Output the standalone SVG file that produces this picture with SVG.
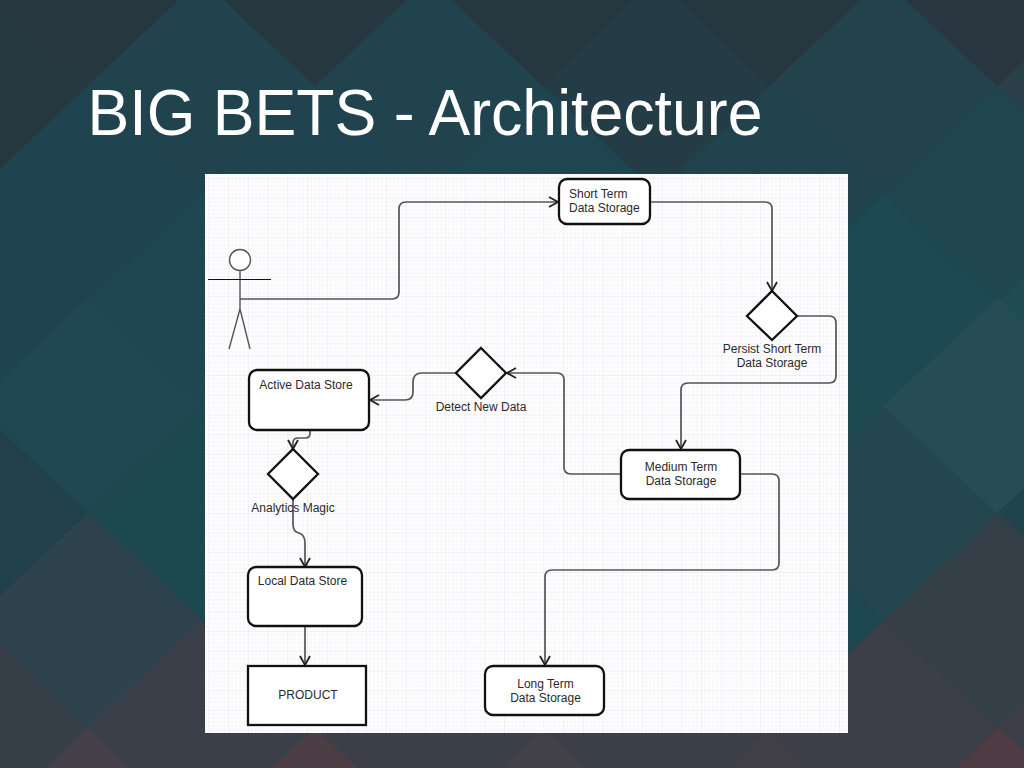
<svg xmlns="http://www.w3.org/2000/svg" width="1024" height="768" viewBox="0 0 1024 768">
<style>
.n{fill:#fff;stroke:#111;stroke-width:2.3}
.a{fill:none;stroke:#555;stroke-width:1.7}
.t{font-family:"Liberation Sans",Arial,sans-serif;font-size:12px;fill:#2a2a2a;text-anchor:middle}
.l{text-anchor:start}
.s{fill:none;stroke:#555;stroke-width:1.4}
</style>
<defs>
<pattern id="grid" x="208.500" y="178" width="19.7" height="19.7" patternUnits="userSpaceOnUse">
<path d="M4 0V19.7M8 0V19.7M12 0V19.7M16 0V19.7M0 4H19.7M0 8H19.7M0 12H19.7M0 16H19.7" stroke="#f7f7fc" stroke-width="1" fill="none"/>
<path d="M0 0V19.7M0 0H19.7" stroke="#e2e2f2" stroke-width="1" fill="none"/>
</pattern>
<marker id="ar" viewBox="0 0 12 12" refX="11" refY="6" markerWidth="12" markerHeight="12" markerUnits="userSpaceOnUse" orient="auto"><path d="M2 1L11 6L2 11" fill="none" stroke="#222" stroke-width="1.8"/></marker>
<path id="d" d="M0-109L116 0L0 109L-116 0Z"/>
</defs>
<rect width="1024" height="768" fill="#26383f"/>
<g id="background">
<use href="#d" x="88" y="-19" fill="#26373f"/><use href="#d" x="315" y="-19" fill="#26373f"/><use href="#d" x="543" y="-19" fill="#25383f"/><use href="#d" x="770" y="-19" fill="#25383f"/><use href="#d" x="998" y="-19" fill="#293640"/>
<use href="#d" x="-25" y="88" fill="#26383f"/><use href="#d" x="201" y="88" fill="#20434e"/><use href="#d" x="429" y="88" fill="#20434e"/><use href="#d" x="656" y="88" fill="#243c45"/><use href="#d" x="883" y="88" fill="#24424c"/><use href="#d" x="1111" y="88" fill="#2a3f48"/>
<use href="#d" x="88" y="195" fill="#1f4450"/><use href="#d" x="315" y="195" fill="#1f4450"/><use href="#d" x="543" y="195" fill="#1f4550"/><use href="#d" x="770" y="195" fill="#20434e"/><use href="#d" x="998" y="195" fill="#1f464f"/>
<use href="#d" x="-25" y="304" fill="#1f4450"/><use href="#d" x="201" y="304" fill="#1e4752"/><use href="#d" x="883" y="304" fill="#1d4952"/><use href="#d" x="1111" y="304" fill="#1f4b53"/>
<use href="#d" x="88" y="407" fill="#204853"/><use href="#d" x="770" y="407" fill="#1e4a52"/><use href="#d" x="998" y="407" fill="#264c56"/>
<use href="#d" x="-25" y="515" fill="#22404a"/><use href="#d" x="201" y="515" fill="#1e4850"/><use href="#d" x="883" y="515" fill="#24464f"/><use href="#d" x="1111" y="515" fill="#20444e"/>
<use href="#d" x="88" y="622" fill="#2e434e"/><use href="#d" x="770" y="622" fill="#1d4750"/><use href="#d" x="998" y="622" fill="#343f47"/>
<use href="#d" x="-25" y="730" fill="#373f48"/><use href="#d" x="201" y="730" fill="#3a3f4a"/><use href="#d" x="429" y="730" fill="#3a3f48"/><use href="#d" x="656" y="730" fill="#3a3f48"/><use href="#d" x="883" y="730" fill="#3c3e48"/><use href="#d" x="1111" y="730" fill="#3c3f48"/>
<use href="#d" x="88" y="837" fill="#44404a"/><use href="#d" x="315" y="837" fill="#4d3e46"/><use href="#d" x="543" y="837" fill="#424048"/><use href="#d" x="770" y="837" fill="#403f48"/><use href="#d" x="998" y="837" fill="#4f3b43"/>
</g>
<text x="87.500" y="135" font-family="Liberation Sans,Arial,sans-serif" font-size="64" fill="#fff" textLength="675" lengthAdjust="spacingAndGlyphs">BIG BETS - Architecture</text>
<g id="canvas"><rect x="205" y="174" width="643" height="559" fill="#fff"/><rect x="205" y="174" width="643" height="559" fill="url(#grid)"/></g>
<g id="connectors">
<path class="a" marker-end="url(#ar)" d="M240 299H392Q399 299 399 292V209Q399 202 406 202H558"/>
<path class="a" marker-end="url(#ar)" d="M651 202H765Q772 202 772 209V291"/>
<path class="a" marker-end="url(#ar)" d="M797 316H829Q836 316 836 323V376Q836 383 829 383H688Q681 383 681 390V449"/>
<path class="a" marker-end="url(#ar)" d="M621 474H571Q564 474 564 467V380Q564 373 557 373H507"/>
<path class="a" marker-end="url(#ar)" d="M456 373H422Q413 373 413 382V392Q413 400 405 400H370"/>
<path class="a" marker-end="url(#ar)" d="M310 431V434Q310 438 305 438H298Q293 438 293 443V449"/>
<path class="a" marker-end="url(#ar)" d="M293 499V524Q293 532 299 533Q305 535 305 543V567"/>
<path class="a" marker-end="url(#ar)" d="M305 626V665"/>
<path class="a" marker-end="url(#ar)" d="M741 474H772Q779 474 779 481V563Q779 570 772 570H552Q545 570 545 577V665"/>
</g>
<g id="actor">
<circle class="s" cx="240" cy="260" r="10.500" style="fill:#fff"/>
<path class="s" d="M240 270.500V309M240 309L229 349M240 309L250 349"/>
<path d="M208 279.500H271" stroke="#111" fill="none"/>
</g>
<g id="short-term"><rect class="n" x="559" y="179" width="91" height="45" rx="8"/><text class="t l" x="569" y="198">Short Term</text><text class="t l" x="569" y="212">Data Storage</text></g>
<g id="persist"><path class="n" d="M772 291L797 316L772 340L747 316Z"/><text class="t" x="772" y="353">Persist Short Term</text><text class="t" x="772" y="367">Data Storage</text></g>
<g id="detect"><path class="n" d="M481 348L506 373L481 398L456 373Z"/><text class="t" x="481" y="411">Detect New Data</text></g>
<g id="active"><rect class="n" x="249" y="370" width="120" height="60" rx="8"/><text class="t" x="306" y="389">Active Data Store</text></g>
<g id="analytics"><path class="n" d="M293 449L318 474L293 499L268 474Z"/><text class="t" x="293" y="512">Analytics Magic</text></g>
<g id="local"><rect class="n" x="248" y="567" width="114" height="59" rx="8"/><text class="t" x="302.500" y="585">Local Data Store</text></g>
<g id="product"><rect class="n" x="248" y="666" width="118" height="59"/><text class="t" x="308" y="699">PRODUCT</text></g>
<g id="medium"><rect class="n" x="621" y="450" width="119" height="49" rx="8"/><text class="t" x="681" y="471">Medium Term</text><text class="t" x="681" y="485">Data Storage</text></g>
<g id="long"><rect class="n" x="485" y="666" width="119" height="49" rx="8"/><text class="t" x="545.500" y="688">Long Term</text><text class="t" x="545.500" y="702">Data Storage</text></g>
</svg>
